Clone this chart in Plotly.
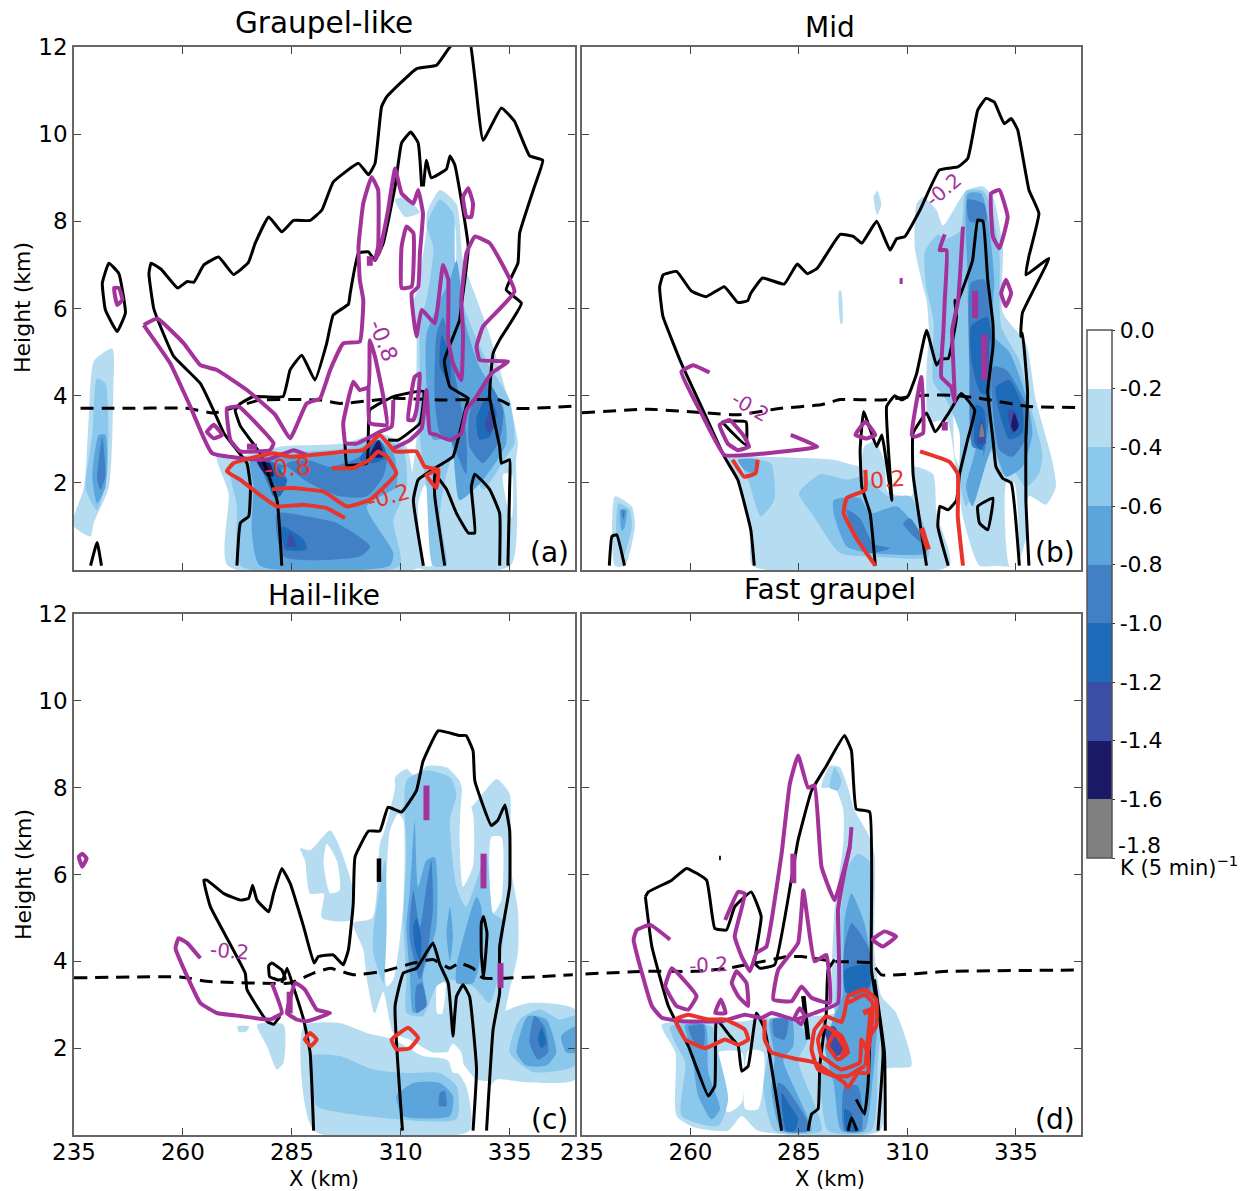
import plotly.graph_objects as go

# ---------- level bands and tick labels ----------
level_edges = [0.0, -0.2, -0.4, -0.6, -0.8, -1.0, -1.2, -1.4, -1.6, -1.8]
level_labels = ["0.0", "-0.2", "-0.4", "-0.6", "-0.8", "-1.0", "-1.2", "-1.4", "-1.6", ""]
level_colors = ["#ffffff", "#b6dcf2", "#8cc8ec", "#5ba5dc", "#4180c4", "#1e6cb9", "#3b4ea6", "#1a1a66", "#808080"]
x_ticks = [235, 260, 285, 310, 335]
y_ticks = [2, 4, 6, 8, 10, 12]

# ---------- panel (a): filled cooling regions, km ----------
a_l1 = [
 [(235,1.23),(237.3,1.9),(238.4,3.5),(239.6,4.8),(243.8,5.08),(244,4.05),(243,1.9),(239.6,1.1),(238.8,.77),(235,1.0)],
 [(270.3,.1),(270.5,1.76),(267.8,2.6),(273.2,2.6),(282.3,2.83),(296.8,2.9),(305.2,3.14),(311.3,2.83),(312.9,1.9),(312.1,1),(315.2,.1)],
 [(316,8.2),(319,8.72),(322.8,8.4),(324.3,7.1),(327.5,6.2),(330.4,5.4),(335.8,3.5),(336.9,2.9),(336.5,2.53),(335.2,.1),(313,.1),(312,1.6),(313.6,3),(313.6,4.36),(313.6,5.58),(312.9,6.19),(313.6,6.35),(315.9,7.8)],
 [(308.7,8.5),(311,8.55),(314.4,8.2),(311,8.1)],
]
a_holes = [
 [(320.1,7.4),(321.3,7.95),(322.4,7.9),(322.4,6.8),(321.3,6.7)],
 [(315.5,.1),(314,1.5),(315.5,1.95),(317,1.6),(317.2,.1)],
 [(333.5,2.2),(335.5,2.2),(335.5,1.2),(334.4,1.5)],
]
a_l2 = [
 [(237.7,1.84),(239.2,3.1),(240.3,4.4),(242.2,4.28),(242.6,2.2),(240.3,1.38)],
 [(273.2,.1),(272.4,1.46),(270.9,2.3),(274.7,2.6),(282.3,2.68),(297.6,2.8),(304.5,3.06),(310.6,2.75),(311.3,1.84),(308.3,1.15),(309.8,.1)],
 [(316,7.9),(319,8.5),(322,8.2),(322.5,7),(325,5.9),(329.7,4.8),(335,3.9),(336.1,2.9),(334.2,2.6),(328.9,1.84),(326.6,2.2),(322,2.6),(319,1.3),(320.5,.1),(317.4,.1),(315.9,1.9),(314.4,3),(314.4,4.36),(314.4,5.7),(315.9,6.19),(317.5,7.4)],
]
a_l3 = [
 [(239.2,2.15),(240.7,3.1),(242.2,3.1),(242.2,1.9),(240.3,1.53)],
 [(277.7,.1),(275.8,.85),(276.2,1.92),(275.5,2.53),(283.1,2.6),(298.4,2.68),(304.5,2.98),(308.3,2.68),(309,1.92),(302.2,1.46),(308.3,.39),(307.5,.1)],
 [(315.9,5.4),(319,6.19),(321.3,6.66),(322.8,7.1),(325,5.6),(328.1,4.66),(333.5,3.75),(334.2,2.9),(328.9,2.07),(323.5,1.6),(321.3,3),(317.4,3),(315.9,4.3)],
]
a_l4 = [
 [(240.3,2.07),(241.5,3.06),(242.2,2.15),(241.1,1.84)],
 [(283.1,.31),(281.6,1.3),(288.4,1.23),(295.3,1.08),(303,.54),(300.6,.31)],
 [(280,1.92),(277.7,2.53),(283.9,2.37),(288.4,2.03),(296,1.69),(302.2,1.69),(306,2.15),(306.8,2.68),(303.7,2.9),(300.6,2.6),(293.8,2.37),(288.4,2.53),(283.9,2.45)],
 [(317.8,3.9),(318.2,5.4),(319.7,5.8),(322.8,4.3),(325,3.14),(325,2.2),(321.3,3),(319,3.14)],
 [(325.8,3.6),(329.7,4.36),(333.5,3.67),(332.7,2.98),(328.9,2.45),(325.8,2.83)],
]
a_l5 = [
 [(283.5,.47),(282.7,1),(287.7,.7),(288.4,.47)],
 [(280.8,1.69),(278.5,2.37),(277.7,2.53),(280.8,2.45),(283.9,2.07),(282.3,1.69)],
 [(300.6,2.53),(302.9,2.9),(305.2,2.98),(306.8,2.6),(303.7,2.45)],
 [(319,4.66),(319.4,5.4),(321.3,4.9),(321.3,4.28)],
 [(327.4,3.5),(330,4),(332,3.6),(330.4,3.06),(328,3)],
]
a_l6 = [
 [(283.9,.54),(284.6,.85),(286.1,.54)],
 [(329.3,3.3),(330.4,3.67),(331.6,3.37),(330.4,3.14)],
]
a_l7 = [
 [(279.3,2.15),(277,2.49),(280,2.45),(280.8,2.15)],
 [(302.9,2.6),(304.9,2.98),(306,2.6)],
]

# ---------- panel (a): contour lines, km ----------
a_freezing = [(236.5,3.71),(244.2,3.71),(261,3.71),(267,3.6),(277.7,3.9),(291.5,3.9),(296,3.82),(308.3,3.94),(319,3.9),(332.7,3.9),(336.5,3.71),(350,3.76)]
a_black = [
 [(272.4,.1),(273.2,1.08),(275.1,1.23),(275.5,1.92),(274.7,2.45),(272.4,2.75),(269.4,3.14),(267,3.67),(264,4.28),(257.9,4.9),(255.2,5.5),(253.3,6),(252.2,6.8),(252.7,7.04),(255,6.9),(258.8,6.47),(261,6.62),(262.5,6.6),(264.8,7),(268.2,7.18),(271.6,6.78),(275,7.05),(276.6,7.5),(279.7,8.1),(282.7,7.76),(285.4,8.02),(289.2,8.02),(291.9,8.26),(294.5,8.9),(300.3,9.33),(302.6,9.07),(304.1,9.33),(305.6,10.63),(306.8,10.86),(313.6,11.5),(318.2,11.58),(321.3,12),(325.5,12.3),(327,11.3),(328.9,9.86),(333.1,10.6),(336.1,10.3),(339.6,9.5),(342.6,9.4),(340.7,8.8),(337.3,7.73),(336.9,7.04),(334.2,6.43),(337.7,6.12),(332.7,5.28),(331.2,4.97),(330.4,3.98),(332.7,2.83),(333.1,2.45),(335,2.53),(335,1.9),(334.6,.1)],
 [(282.7,.1),(281.6,1.6),(277.7,2.68),(273.2,3.3),(272,3.67),(273.2,3.82),(276.2,3.98),(283,3.98),(284.6,4.59),(287.3,4.93),(290.3,4.36),(293,5.2),(294.5,5.85),(298,6.1),(298.4,6.35),(300.3,7.27),(302.6,7.3),(304.1,7.1),(306,7.5),(308.7,8.8),(310.2,9.8),(312.3,10.05),(314,9.8),(314.8,8.8)],
 [(315.2,.1),(312.9,1.6),(314,2.07),(319.7,2.45),(322,2.6),(325,3.75),(325.5,3.94),(321.3,4.2),(320,4.8),(323.5,5.73),(323.9,6.05),(325.5,7.4),(322.4,9.3),(321.3,9.5),(320.5,9.2),(317,9),(315.9,9.4),(315.2,8.8)],
 [(320.1,.1),(317.8,1.7),(317.8,2.2),(320.5,1.85),(322.8,1.3),(325.5,.85),(327,.85),(326.2,1.9),(327,2.2),(330.4,1.85),(332.7,1.3),(332.7,.1)],
 [(297.2,2.9),(297.6,2.4),(298.4,2.4),(302.2,2.45),(302.9,3.67),(308.3,3.98),(315.2,4.1),(314.4,3.37),(309.4,2.98),(307.1,2.98)],
 [(238.8,.1),(240.3,.63),(241.3,.1)],
 [(241.5,6.58),(243,7.04),(245.3,6.8),(246.8,5.9),(244.9,5.47),(242.2,5.97),(241.5,6.58)],
]
a_purple = [
 [(251,5.62),(254.1,5.77),(260.2,5.2),(264,4.7),(267.8,4.59),(274.7,4.13),(281.2,3.56),(284.6,3.02),(288.4,3.82),(291.5,3.94),(293.8,4.59),(296.8,5.2),(300.6,5.24),(301.4,6.19),(300.6,6.66),(300.3,7.42),(301.4,8.41),(303.3,9.02),(304.8,8.72),(304.8,7.42),(304.1,7.11),(305.2,7.34),(307.1,8.26),(308.7,9.21),(310.2,8.64),(312.9,8.41),(314,8.72),(315.1,8.18),(314.4,7.27),(314,6.5),(312.5,6.35),(312.9,5.82),(313.6,5.36),(314.8,5.97),(317.8,5.66),(319.7,7),(320.9,6.66),(320.9,5.28),(322,4.74),(323.9,4.36),(324.3,5.43),(323.9,6.19),(325.1,7.27),(327,7.65),(330.4,7.5),(336.1,6.39),(328.9,5.59),(327.4,5.13),(328.1,4.82),(334.6,4.78),(330.8,4.51),(327.4,3.98),(325.1,3.67),(323.9,3.14),(321.3,2.98),(318.2,3.1),(316.7,3.14),(315.9,4.13),(314.8,3.25),(312.1,2.98),(308.3,2.79)],
 [(297.2,2.9),(296.8,3.37),(299.1,4.32),(300.6,4.13),(302.6,4.2),(302.9,5.27),(304.1,4.89),(306,3.98),(306.8,3.33),(302.9,3.37),(302.6,4.2)],
 [(297.2,2.9),(299.9,2.9),(305.2,3.17),(307.9,3.29),(308.3,3.9)],
 [(251,5.62),(257.1,4.74),(261.7,3.75),(266.7,2.68),(279.3,2.53),(285.4,2.75),(288.4,2.64)],
 [(270.1,3.71),(272.8,3.75),(280.8,2.91),(280,2.75),(273.2,2.72),(270.9,2.98),(270.1,3.71)],
 [(265.5,3.17),(267.1,3.33),(269,3.1),(267.1,3.02),(265.5,3.17)],
 [(311.7,3.44),(313.2,4.43),(314.4,4.51),(313.6,3.67),(312.9,3.44),(311.7,3.44)],
 [(324.3,8.56),(325.5,8.76),(326.6,8.41),(326.2,8.1),(325.1,8.1),(324.3,8.56)],
 [(310.2,7.42),(311.3,7.88),(312.9,7.73),(312.5,6.5),(310.2,6.47),(310.2,7.42)],
 [(244.2,6.47),(245.3,6.47),(246.1,6.2),(244.9,6.08),(244.2,6.47)],
]
a_red = [
 [(297.2,1.19),(293,1.42),(287.7,1.5),(281.6,1.46),(277.7,1.72),(273.2,2.07),(270.1,2.26),(271.6,2.45),(280.8,2.68),(284.6,2.6),(297.6,2.72),(301.4,2.75),(305.2,3.1),(308.7,2.72),(313.6,2.72),(315.5,2.37),(318.6,2.3),(318.2,1.88),(315.9,2.18),(318.6,2.3)],
 [(280.4,1.85),(284.6,1.88),(292.3,1.8),(297.6,1.46),(302.9,1.61),(309,2.22),(306.8,2.6),(304.8,2.72),(302.9,2.53),(299.1,2.34),(294.2,2.34)],
]
a_bars = [
 [(274.7,2.83),(277,2.83)],
 [(302.9,7.2),(302.9,6.98)],
]

# ---------- panel (b) ----------
b_l1 = [
 [(242.6,1.69),(246.5,1.45),(247.2,1),(244.9,.1),(242.6,.1)],
 [(267.8,2.6),(275.5,2.6),(293,2.53),(299,2.4),(300,2.83),(302.5,2.95),(304.7,2.5),(305.5,1.8),(311,1.7),(311.3,2.37),(315.9,2.2),(316.7,1.3),(319.7,.1),(274.3,.1),(273.9,.92),(270.9,2.07)],
 [(312.1,8.4),(313.6,8.56),(316.7,8.26),(318.2,7.9),(323.5,8.7),(327.4,8.8),(329.7,8.56),(332,7.4),(332,5.9),(337.3,5.2),(339.6,3.9),(343.4,2.5),(344.2,1.9),(341.9,1.5),(338,1.7),(337.5,.8),(335,.1),(330.4,.1),(326.6,.1),(322.8,1.2),(321.3,2.2),(319,3.44),(315,3.4),(314.4,4.66),(315,5.4),(314.4,6.19),(313.6,6.5),(311.7,7.4)],
 [(302.2,8.55),(303,8.7),(304,8.4),(303,8.15)],
 [(294.2,6.4),(294.7,6.4),(295,5.65),(294.6,5.65)],
]
b_holes = [
 [(321,3.9),(323.5,3.7),(324,2.9),(322.5,2.3),(321,2.6)],
 [(332.8,2),(334.6,2),(335.2,.1),(333.5,.1)],
]
b_l2 = [
 [(243.4,1.53),(246,1.38),(246.5,1),(244.5,.31),(243,.7)],
 [(271.6,2.53),(278.5,2.45),(279.3,1.6),(276.2,1.23),(273.5,2)],
 [(285,1.76),(290,2.2),(296,2.07),(299.9,2.14),(305.6,1.69),(310.6,1.69),(314.4,.85),(314.8,.3),(303.7,.3),(294.5,.39),(288.4,1.23)],
 [(323.5,8.7),(327.4,8.7),(329.3,8.3),(331.2,7.27),(331.6,5.6),(335.8,4.8),(338,3.9),(341.1,2.68),(340.3,2.2),(337.3,1.9),(334.2,2.3),(332,2.2),(329.7,2.75),(325.8,1.9),(323.5,1.46),(322,2.07),(322,3.14),(319,3.9),(316,4.3),(316,5.7),(315,6.2),(314.4,6.43),(314,7.3),(317,7.7),(319,7.6),(322.3,7.8)],
]
b_l3 = [
 [(243.8,1.38),(245.3,1.38),(244.9,1),(244.2,.9)],
 [(270.9,2.53),(275.5,2.53),(274.7,2.22),(272.4,2.3)],
 [(293,1.6),(299,1.65),(301.4,1.3),(307.5,1.46),(313.6,.77),(314.4,.39),(301.4,.39),(296,.54),(293,1.3)],
 [(323.9,8.64),(327,8.64),(328.5,8.1),(330,6.66),(329.7,5.4),(333.5,5),(337.3,4),(338.8,3.14),(336.5,2.37),(332.7,2.14),(329.7,2.83),(325,1.46),(323.5,1.9),(325.8,2.83),(325,3.9),(324.3,5.4),(323.9,6.2),(323.9,6.66)],
]
b_l4 = [
 [(244.1,1.38),(244.9,1.35),(244.5,1.15)],
 [(296,1.38),(297.6,.85),(300.6,.39),(306,.5),(302.2,.6),(299,1.2)],
 [(309,1.08),(310.6,1.19),(312.9,.85),(313.6,.6),(310.6,.85)],
 [(323.9,8.5),(327.7,8.4),(328.1,8),(324.3,8)],
 [(324.7,6.6),(327.7,6.66),(329.5,5.3),(329.3,4.1),(328.5,3.2),(327.5,2.6),(327.4,2.75),(325,2.83),(324.3,4.66)],
 [(329.7,4.66),(332.7,4.6),(337.3,3.8),(337.7,3.1),(334.2,2.6),(331.2,2.75),(329.7,3.67)],
]
b_l5 = [
 [(324.7,5.6),(328.5,5.8),(329.3,5.36),(328.9,5.2),(328.5,4.05),(327,4.05),(325,4.66)],
 [(325.8,3.8),(327.7,3.67),(328,3),(327,2.75),(325.5,2.9)],
 [(330.4,4.2),(333.5,4.36),(336.5,3.75),(336.5,3.14),(333.5,3),(331.2,3.6)],
]
b_l6 = [
 [(333.1,3.67),(334.6,3.67),(335.8,3.3),(334.2,3.14)],
 [(326.2,2.9),(327.1,3.5),(328,2.9)],
]
b_l7 = [[(333.9,3.3),(334.6,3.6),(335.6,3.3),(334.6,3.17)]]
b_l8 = [[(326.6,3.06),(327.1,3.37),(327.7,3.06)]]

b_freezing = [(235,3.61),(250.3,3.69),(264,3.6),(270.9,3.56),(280.8,3.71),(290,3.79),(294.5,3.91),(303.7,3.9),(314.4,4.01),(320.5,4.01),(326.6,3.94),(338,3.75),(349.5,3.73)]
b_black = [
 [(274.7,.1),(273.9,.92),(270.9,2.07),(267.8,2.6),(263.2,3.6),(257.9,4.74),(253.7,5.8),(253.3,6.05),(252.9,6.5),(253.7,6.77),(256.8,6.85),(260.2,6.4),(263.6,6.27),(267.8,6.5),(270.9,6.14),(273.2,6.18),(273.9,6.35),(276.6,6.7),(281.6,6.56),(284.6,7.02),(286.9,6.8),(289.2,6.92),(294.5,7.7),(297.6,7.65),(299.5,7.5),(302.9,8),(306,7.34),(307.5,7.6),(309.4,7.65),(312.9,8.26),(317.4,9.18),(321.6,9.25),(323.9,9.44),(326.2,10.55),(328.1,10.82),(330,10.74),(332.3,10.24),(333.9,10.36),(335.4,10.1),(338,8.72),(340.3,8.18),(338,7.2),(337.3,6.77),(342.6,7.15),(336.5,5.9),(336.1,5.36),(336.5,5.43),(337.7,4.05),(337.3,3),(337.3,1.6),(338,.1)],
 [(302.6,.1),(301.4,1.3),(299.5,1.9),(299.1,2.75),(299.9,3.63),(302.9,2.83),(304.1,3.1),(306.4,1.6),(305.2,3.75),(307.1,4),(308.7,3.9),(310.2,4),(312.1,4.5),(314.4,5.5),(316.7,4.7),(317.8,4.85),(319.4,4.85),(321.3,5.8),(320.9,6.19),(321.3,6.1),(325,7.1),(326.2,8.03),(327.4,8),(328.5,6.66),(329.7,5.66),(329.7,5.1),(328.5,4.1),(329.7,3),(330.4,2.37),(332,2.1),(333.9,2),(335.8,.1)],
 [(314.4,.1),(311.3,2.2),(311.3,3.14),(314.4,3.6),(316.4,3.17),(319.5,3.6),(322.4,4.05),(325.5,3.67),(323.9,3),(322,2.2),(321.3,1.6),(319.4,1.38),(317.5,1.46),(317,1),(319.4,.1)],
 [(326.2,1.46),(329.7,1.65),(328.5,.92),(326.6,1.08),(326.2,1.46)],
 [(241.3,.1),(241.9,.77),(243,.81),(244.8,.1)],
 [(267.4,3.4),(272.8,3.4),(272.8,2.87),(267.4,3.4)],
]
b_purple = [
 [(264.4,4.53),(260.6,4.7),(257.9,4.55),(263,3.5),(267.8,2.64),(277.7,2.68),(289.2,2.83),(283.1,3.1)],
 [(266.7,3.33),(269,3.44),(272.4,3.06),(273.5,2.83),(270.9,2.75),(268.6,2.9),(266.7,3.33)],
 [(298,3.1),(300.3,3.4),(302.6,3.1),(300.6,3.02),(298,3.1)],
 [(311,3.1),(313.2,4.43),(313.6,3.14),(311.7,3.06),(311,3.1)],
 [(322.8,7.88),(322.2,6.9),(321.7,6.19),(320.3,5.5),(320.5,4.9),(320.9,3.86),(320.1,4.2),(317.8,4.43),(318.3,5.5),(318.6,6.19),(319,7.34),(317.4,7.34),(318.6,7.7)],
 [(329.3,8.64),(331.2,8.72),(333.1,8.1),(331.2,7.38),(329.7,7.65),(329.3,8.64)],
 [(331.6,6.35),(332.7,6.66),(333.9,6.35),(332.7,6.05),(331.6,6.35)],
]
b_bars = [
 [(325.6,6.4),(325.6,5.78)],
 [(327.7,5.4),(327.7,4.36)],
 [(318.6,3.4),(318.6,3.2)],
 [(308.2,6.63),(308.9,6.63)],
]
b_red = [
 [(312.9,2.72),(319.7,2.48),(321.6,2.2),(321.6,1.23),(322.8,.1)],
 [(300.3,2.3),(300.3,1.84),(296,1.65),(295.3,1.3),(298.4,.7),(302.6,.1)],
 [(269.7,2.53),(272.4,2.14),(275,2.22),(275.5,2.53)],
]
b_red_bars = [[(313.2,.96),(314.8,.47)]]

# ---------- panel (c) ----------
c_l1 = [
 [(287.7,2.51),(296,2.58),(302.2,2.35),(308.3,2.2),(315.1,1.82),(320.5,1.74),(325,1.13),(325.8,.1),(290.1,.1)],
 [(277,2.54),(283.1,2.54),(283.1,1.67),(281.6,1.51),(279.3,2.05)],
 [(272.5,2.5),(275.2,2.5),(274.5,2.38),(272.8,2.38)],
 [(332.7,2.35),(333.5,2.81),(339.6,3.04),(350,2.89),(350,1.28),(339.6,1.21),(332,1.28),(330.4,1.13)],
 [(306.4,7.05),(308.7,8),(308.7,8.24),(311.3,8.43),(313.6,8.24),(315.9,8.5),(320.5,8.47),(323.5,8.16),(325.5,7.5),(328.8,7.86),(332,8.2),(335,7.86),(335,6.33),(336.9,5.18),(336.9,4.19),(334.2,2.97),(332,1.28),(327.4,1.28),(322,1.9),(317.4,1.9),(312,2.2),(308.3,2.35),(306,3.3),(304,2.8),(302.2,3.6),(301.4,4.27),(299.1,4.88),(303.5,5),(305.2,6.7)],
 [(286.9,6.6),(289.2,6.56),(293.8,7.02),(296,6.63),(299.1,5.64),(298.7,4.95),(291.9,5),(292.3,5.56),(289.2,5.56),(288,6.33)],
]
c_holes = [
 [(307.5,7),(309.4,7.4),(310.6,7.25),(310.6,5.34),(308.3,3.58),(306.8,3.42),(306,4.95),(306.8,6.1)],
 [(293,6.71),(295.3,6.33),(296,5.64),(293.8,5.57),(292.3,6.26)],
 [(330.8,6.86),(333.1,6.86),(333.1,5.41),(331.2,5.1),(330.4,5.87)],
 [(324.3,8),(326.6,7.4),(326.6,6.2),(324.3,5.72),(323.5,6.86)],
 [(320.9,1.9),(322,2.1),(323.9,1.9),(324.3,1.44),(322,1.44)],
 [(318.5,3.6),(320.2,3.5),(319.5,2.8),(318.4,2.8)],
]
c_l2 = [
 [(289.2,1.82),(296,1.82),(303.7,1.51),(311.3,1.43),(319,1.43),(322.8,1.13),(322.8,.37),(296,.52),(290.7,.67)],
 [(335,1.9),(337.3,2.66),(341.9,2.89),(346.5,2.66),(350,2.74),(350,1.6),(340.3,1.45)],
 [(311.3,8.16),(315.9,8.4),(321.3,8.24),(322.8,7.86),(321.3,7.25),(322.8,5.72),(325,5.26),(329.7,6.48),(331.2,5.1),(333.5,4.95),(332.7,3.8),(330.4,3.04),(326.6,3.42),(321.3,3.58),(318.2,3.42),(315.1,2.74),(311.3,2.81),(311.3,3.58),(310.6,4.95),(311.3,6.48)],
 [(303.7,4.65),(306.4,6.33),(306.8,4.95),(306,3.5),(303.7,4.19)],
]
c_l3 = [
 [(309,.9),(312.9,1.2),(319,1.2),(322,.9),(321.3,.44),(310.6,.44)],
 [(336.6,1.9),(339.2,2.74),(343.4,2.66),(345.7,1.9),(343.4,1.6),(338.8,1.6)],
 [(346.8,2.28),(350,2.5),(350,1.9),(348,1.9)],
 [(311.3,4.8),(312.1,5.64),(313.2,7.25),(314,5.72),(315.9,6.33),(317.8,6.4),(318.2,4.8),(315.1,3.65),(315.9,2.97),(312.9,2.81),(312.1,3.73)],
 [(320.5,4.65),(321.3,5.26),(322,4.57),(321.3,4)],
 [(322.8,3.88),(327.4,5.49),(328.5,5.26),(328.1,4),(326.6,3.5),(322.8,3.5)],
]
c_l4 = [
 [(319,.98),(320.1,1.02),(320.5,.67),(318.8,.67)],
 [(339.6,2.12),(340.7,2.74),(343,2.5),(343.8,1.9),(341.5,1.74)],
 [(312.1,5),(312.9,5.64),(314.4,4.8),(315.9,5.72),(317,6.33),(317.4,5.26),(316.3,4.34),(314.4,3.58),(312.1,4.5)],
 [(313.6,3.43),(314.8,3.5),(315.9,2.97),(313.6,2.81)],
]
c_l5 = [
 [(341.5,2.2),(342.3,2.47),(343.4,2.12),(342.3,2)],
 [(312.9,4.8),(313.6,5),(314.8,4.5),(314.4,4),(313.2,4.34)],
]
c_freezing = [(235,3.62),(259.4,3.64),(265.5,3.54),(284.6,3.5),(290,3.73),(293.8,3.84),(299.1,3.69),(306,3.77),(312.9,3.96),(317.4,4.04),(321.3,3.84),(323.5,3.96),(326.6,3.84),(328.8,3.62),(349.5,3.69)]
c_black = [
 [(290,.1),(289.2,1.9),(287.7,2.66),(285.4,3.4),(283.9,3.84),(282.7,3.5)],
 [(282.3,2.74),(280.8,2.55),(279.3,2.62),(274.7,3.35),(274.3,3.73),(266.3,5.26),(264.8,5.87),(265.5,5.87),(269.4,5.56),(273.2,5.41),(275.1,5.45),(276,5.75),(277,5.41),(279.7,5.14),(280.8,5.56),(282.7,6.14),(284.6,5.8),(287.7,4.8),(290.1,3.96),(291.1,4.11),(294.5,4.15),(296.8,3.92),(298,4.27),(299.1,5.33),(299.5,6.4),(302.6,7),(305.2,7),(307.1,7.55),(310.2,7.44),(313.6,7.93),(315.1,8.6),(318.6,9.31),(323.5,9.2),(325,9.2),(326.6,8.85),(327,8.16),(330.8,7.13),(332.3,7.25),(333.9,7.6),(335,7.02),(335,5.72),(332.7,4.34),(332.7,3.27),(331.2,2.43),(329.7,.1)],
 [(279.7,3.9),(280.4,3.96),(282.7,3.8),(283.5,3.6),(281.9,3.57),(279.9,3.65),(279.7,3.9)],
 [(310.4,.1),(308.7,2.97),(310.6,3.73),(313.6,3.84),(317.4,4.42),(319,3.92),(320.9,3.5),(322,2.28),(322.8,3.19),(324.3,3.46),(325.8,3.19),(327.4,1.51),(326.6,.1)],
 [(328.5,4.88),(329,5.03),(329.8,4.65),(329,3.62),(328.5,4.19),(328.5,4.88)],
]
c_black_bars = [[(305,6.37),(305,5.83)]]
c_purple = [
 [(264,4.07),(261,4.42),(259,4.53),(258.3,4.3),(261,3.65),(264,3.04),(267.8,2.81),(273.2,2.74),(280,2.66),(282.7,2.81),(280.4,3.5)],
 [(283.9,2.81),(285.8,3.5),(288,3.35),(290.7,2.89),(293.8,2.81),(288.4,2.62),(286.1,2.66),(283.9,2.81)],
 [(236.1,6.41),(236.9,6.48),(237.9,6.37),(236.9,6.18),(236.1,6.41)],
]
c_bars = [
 [(315.9,8.05),(315.9,7.25)],
 [(329,6.48),(329,5.68)],
 [(332.9,3.96),(332.9,3.39)],
 [(284.5,3.3),(284.5,2.8)],
]
c_red = [
 [(288,2.2),(289.2,2.35),(290.7,2.2),(289.4,2.05),(288,2.2)],
 [(307.9,2.2),(311.7,2.47),(314,2.24),(312.1,2),(309,1.97),(307.9,2.2)],
]

# ---------- panel (d) ----------
d_l1 = [
 [(253.4,2.54),(272.5,2.62),(277,2.7),(293.2,2.81),(292.5,3.04),(293.2,5.18),(295.2,6.7),(295.2,7.5),(293.2,8),(290.2,8),(292.1,8.5),(294.4,8.47),(296.3,8),(297.8,7.48),(300.9,6.94),(302.4,6.48),(302.4,4.19),(304,3.2),(307.4,2.81),(310.9,1.59),(304.7,1.51),(303.7,.1),(275.6,.1),(271.8,.44),(268.7,.1),(261,.17),(256.8,.44),(256.5,1.9)],
]
d_holes = [
 [(273.3,1.95),(276.8,1.9),(275.6,.6),(272.6,.6)],
 [(266.4,1.9),(271.8,1.9),(271.8,.74),(268.7,.52),(266.4,.9)],
]
d_l2 = [
 [(255.3,2.5),(264.9,2.5),(266.4,1.9),(268.7,.82),(266.4,.21),(258,.44),(258.8,1.67),(256.5,2.12)],
 [(277.1,2.58),(284,2.66),(287,2.2),(284.8,1.74),(285.6,1.44),(290.2,.1),(279.4,.1),(276.8,1.05),(277.9,1.9)],
 [(294.4,4.95),(296.3,6.18),(298.6,6.48),(301.7,6.25),(301.7,3.96),(304,2.66),(303.2,1.74),(301.7,.1),(291.7,.1),(290.2,1.59),(291.7,1.9),(293.2,2.8)],
 [(292.1,8),(293.2,8.47),(294.8,8.16),(294,7.94)],
]
d_l3 = [
 [(258.8,2.54),(263.4,2.54),(264.1,1.44),(266.8,.6),(264.9,.36),(261.8,.9),(260.3,1.9)],
 [(278.3,2.66),(283.3,2.66),(283.7,2.05),(281.4,1.74),(284.8,.9),(287.9,.1),(281,.1),(278.7,.98),(279.4,1.82)],
 [(295.5,4.95),(297.1,5.56),(300.1,4.88),(301.7,4),(302.6,3.4),(303,2.5),(302,1.3),(300.1,.1),(294.8,.1),(293,1.2),(291,2),(293,2.7),(295,3.2)],
]
d_l4 = [
 [(259.5,2.5),(263,2.54),(263,2.05),(261,2.12)],
 [(279,2.66),(282.5,2.66),(281.7,2.2),(279.4,2.27)],
 [(280.2,1.2),(281.7,1.13),(287.1,.29),(287.1,.1),(281.7,.1),(279.8,.74)],
 [(295.5,4.34),(297.1,4.88),(300.9,4.34),(301.7,3.73),(300.9,3.2),(296.3,3.2),(295.2,3.73)],
 [(295.5,1.13),(298.6,1.13),(299.4,.1),(295.5,.1)],
]
d_l5 = [
 [(281,.98),(282.5,.75),(284.8,.37),(284,.1),(282.1,.1)],
 [(295.5,3.8),(300.9,3.92),(301.3,3.42),(295.9,3.27)],
 [(295.5,.6),(297,.52),(298.2,.1),(295.9,.1)],
]
d_l6 = [[(290.9,2.43),(293.2,2.5),(295.5,1.9),(293.2,1.82)]]

d_freezing = [(235.8,3.71),(250.3,3.77),(261,3.77),(268.7,3.84),(282.5,4.11),(285.6,4.11),(293.2,4),(301.7,3.96),(304,3.69),(319.3,3.77),(350,3.8)]
d_black = [
 [(249.6,5.49),(250.3,5.6),(255.7,5.87),(259.1,6.14),(263.7,5.87),(265.6,4.76),(268.3,4.72),(270.2,5.26),(274,5.6),(276.3,5.03),(274.8,3.96),(276,3.84),(279.4,3.92),(284.8,6.79),(287.9,7.93),(291.3,8.5),(295.5,9.2),(297.1,8.85),(298.2,7.51),(301.3,7.44),(301.7,3.8),(303.6,2.66),(304.4,1.9),(303.2,.1)],
 [(302.4,3.58),(304.7,1.9),(304.9,.1)],
 [(249.6,5.49),(251.1,4.34),(254.9,2.97),(259.5,2.05),(264.1,.9),(265.6,1.13),(266,2.66),(269.1,2.28),(271,2.05),(271.8,1.47),(273.3,1.59),(275.2,2.81),(277.1,2.43),(281,.1)],
 [(287.1,.1),(287.9,.48),(289.4,.6),(289.8,1.59),(291.3,2.81),(291.7,3.8),(293.2,4.04)],
 [(296.3,.1),(297.1,.4),(298.4,.1)],
 [(298.2,.82),(300.1,.48),(300.9,1.13),(301.3,2.05)],
]
d_black_bars = [
 [(286,3.2),(287.1,2.2)],
 [(266.6,6.38),(267,6.38)],
]
d_purple = [
 [(255.3,4.5),(250.7,4.84),(247.6,4.72),(246.9,4.5),(251.1,2.97),(253.4,2.7),(258,2.62),(267.2,2.62),(272.5,2.77),(276.4,2.7),(278.7,2.81),(284,2.66),(288.6,2.81),(294,3.04),(294,5.18),(295.5,6.06),(296.7,6.63),(297.1,7.09)],
 [(296.7,6.63),(293.2,5.41),(290.2,6.18),(288.6,8.05),(287.1,8),(284.8,8.74),(282.9,8.09),(281,6.48),(278.7,4.95),(277.5,4.34),(275.2,4.19),(273.7,3.77),(271.8,4.11),(270.2,4.57),(272.5,5.56),(271,5.6),(268,4.95)],
 [(279.1,3.12),(280.2,3.8),(284.8,4.42),(286,5.64),(287.1,4.88),(288.6,4),(291.3,4.15),(292.1,3.04),(287.9,3.16),(285.6,3.42),(283.3,3.08),(279.1,3.12)],
 [(254.2,3.42),(255.7,3.84),(261.4,3.2),(259.5,2.89),(256.8,2.97),(254.2,3.42)],
 [(269.5,3.5),(270.6,3.77),(272.9,3.5),(273.3,2.97),(271,3.2),(269.5,3.5)],
 [(265.7,2.81),(267,3.12),(268.1,2.81),(265.7,2.81)],
 [(302,4.5),(304.7,4.69),(307.4,4.57),(304.3,4.34),(302,4.5)],
 [(284,2.7),(285.2,2.92),(286.3,2.75),(285.5,2.55),(284,2.7)],
]
d_bars = [[(283.7,6.48),(283.7,5.8)]]
d_red = [
 [(256.5,2.66),(259.5,2.77),(264.1,2.66),(268,2.66),(272.5,2.43),(273.3,2.2),(271,2.08),(268,2.2),(263.4,2),(258.8,2.2),(256.5,2.66)],
 [(277.1,2.66),(277.1,2.2),(278.7,1.9),(284,1.76),(288.6,1.67),(295.5,1.2),(296.3,1.09),(298.6,1.43),(300.9,1.43),(300.9,2.2),(302.8,2.51),(302.8,3.12),(300.1,3.35),(296.3,3.19),(295.5,2.81),(294.8,2.6),(291.3,2.73),(288.6,2.43),(287.9,1.97),(289.4,1.51),(293.2,1.36),(296.3,1.36),(300.1,1.59)],
 [(296.3,3.04),(300.1,3.23),(302,3.04),(301.7,2.5),(300.9,1.9),(299.4,2.2),(299,1.67),(294.8,1.51),(290.2,1.82),(289.4,2.2),(290.9,2.5),(294.8,2.28),(296.3,1.9),(294,1.74),(291.7,2.05),(293.2,2.35),(295.5,2),(294.8,1.82)],
]
d_red_bars = [[(299.8,2.81),(301.7,2.89),(300.5,1.59)]]

# ---------- axes and pixel frame of the figure ----------
W, H = 1258, 1191
frames = {"a": (74, 575, 47, 570), "b": (582, 1081, 47, 570), "c": (74, 575, 614, 1135), "d": (582, 1081, 614, 1135)}
axis_ids = {"a": ("x", "y"), "b": ("x2", "y2"), "c": ("x3", "y3"), "d": ("x4", "y4")}
BLACK, PURPLE, RED = "#000000", "#a3339b", "#e8342b"

fig = go.Figure()

def add_fill(panel, polys, color):
    xa, ya = axis_ids[panel]
    for poly in polys:
        fig.add_trace(go.Scatter(x=[p[0] for p in poly] + [poly[0][0]], y=[p[1] for p in poly] + [poly[0][1]],
                                 xaxis=xa, yaxis=ya, mode="lines", fill="toself", fillcolor=color,
                                 line=dict(width=0, color=color, shape="spline", smoothing=0.6),
                                 hoverinfo="skip", showlegend=False))

def add_lines(panel, lines, color, width, dash="solid", smooth=0.35):
    xa, ya = axis_ids[panel]
    for line in lines:
        fig.add_trace(go.Scatter(x=[p[0] for p in line], y=[p[1] for p in line], xaxis=xa, yaxis=ya, mode="lines",
                                 line=dict(color=color, width=width, dash=dash, shape="spline", smoothing=smooth),
                                 hoverinfo="skip", showlegend=False))

fills = {
 "a": [(a_l1, 1), (a_holes, 0), (a_l2, 2), (a_l3, 3), (a_l4, 4), (a_l5, 5), (a_l6, 6), (a_l7, 7)],
 "b": [(b_l1, 1), (b_holes, 0), (b_l2, 2), (b_l3, 3), (b_l4, 4), (b_l5, 5), (b_l6, 6), (b_l7, 7), (b_l8, 8)],
 "c": [(c_l1, 1), (c_holes, 0), (c_l2, 2), (c_l3, 3), (c_l4, 4), (c_l5, 5)],
 "d": [(d_l1, 1), (d_holes, 0), (d_l2, 2), (d_l3, 3), (d_l4, 4), (d_l5, 5), (d_l6, 6)],
}
for panel, groups in fills.items():
    for polys, idx in groups:
        add_fill(panel, polys, level_colors[idx])

for panel, black, freezing, purple, bars, red, red_bars, black_bars in [
    ("a", a_black, a_freezing, a_purple, a_bars, a_red, [], []),
    ("b", b_black, b_freezing, b_purple, b_bars, b_red, b_red_bars, []),
    ("c", c_black, c_freezing, c_purple, c_bars, c_red, [], c_black_bars),
    ("d", d_black, d_freezing, d_purple, d_bars, d_red, d_red_bars, d_black_bars),
]:
    add_lines(panel, black, BLACK, 3)
    add_lines(panel, black_bars, BLACK, 4.5, smooth=0)
    add_lines(panel, [freezing], BLACK, 3, dash="13px,8px")
    add_lines(panel, purple, PURPLE, 4)
    add_lines(panel, bars, PURPLE, 6, smooth=0)
    add_lines(panel, red, RED, 4)
    add_lines(panel, red_bars, RED, 5.5, smooth=0)

# colour bar, carried by a point outside the visible range
n_bands = len(level_colors)
scale = []
for i, c in enumerate(reversed(level_colors)):
    scale += [[i / n_bands, c], [(i + 1) / n_bands, c]]
fig.add_trace(go.Scatter(
    x=[240, 240], y=[-5, -5], mode="markers", hoverinfo="skip", showlegend=False,
    marker=dict(color=[level_edges[-1], level_edges[0]], cmin=level_edges[-1], cmax=level_edges[0], colorscale=scale, size=1,
                colorbar=dict(thickness=25, thicknessmode="pixels", len=528, lenmode="pixels",
                              x=1087 / W, xanchor="left", y=1 - 330 / H, yanchor="top", xpad=0, ypad=0,
                              outlinewidth=1.5, outlinecolor="#555555",
                              tickmode="array", tickvals=level_edges, ticktext=level_labels,
                              ticks="outside", ticklen=3, tickcolor="#333333",
                              tickfont=dict(family="DejaVu Sans", size=22, color="#000000")))))

layout_axes = {}
for panel, (l, r, t, b) in frames.items():
    xa, ya = axis_ids[panel]
    show_x = panel in "cd"
    show_y = panel in "ac"
    common = dict(showgrid=False, zeroline=False, showline=True, linecolor="#666666", linewidth=1.5, mirror="ticks",
                  ticks="inside", ticklen=7, tickcolor="#444444", tickwidth=1,
                  tickfont=dict(family="DejaVu Sans", size=23, color="#000000"))
    xname = "xaxis" + xa[1:]
    yname = "yaxis" + ya[1:]
    layout_axes[xname] = dict(domain=[l / W, r / W], range=[235, 350], tickmode="array", tickvals=x_ticks,
                              showticklabels=show_x, anchor=ya, ticklabelstandoff=-4, **common)
    layout_axes[yname] = dict(domain=[1 - b / H, 1 - t / H], range=[0, 12], tickmode="array", tickvals=y_ticks,
                              showticklabels=show_y, anchor=xa, **common)

def label(text, px, py, size, color="#000000", angle=0):
    return dict(text=text, x=px / W, y=1 - py / H, xref="paper", yref="paper", showarrow=False,
                font=dict(family="DejaVu Sans", size=size, color=color), textangle=angle,
                xanchor="center", yanchor="middle")

def inset(text, panel, km_x, km_y, size, color, angle=0):
    xa, ya = axis_ids[panel]
    return dict(text=text, x=km_x, y=km_y, xref=xa, yref=ya, showarrow=False,
                font=dict(family="DejaVu Sans", size=size, color=color), textangle=angle)

annotations = [
    label("Graupel-like", 324, 23, 29.5), label("Mid", 830, 28, 28), label("Hail-like", 324, 595, 28),
    label("Fast graupel", 830, 589, 28),
    label("(a)", 549, 552, 28), label("(b)", 1055, 552, 28), label("(c)", 549, 1119, 28), label("(d)", 1055, 1119, 28),
    label("X (km)", 324, 1179, 21), label("X (km)", 830, 1179, 21),
    label("Height (km)", 23, 308, 22, angle=-90), label("Height (km)", 23, 875, 22, angle=-90),
    label("-1.8", 1139, 845, 22),
    dict(text="K (5 min)<sup>\u22121</sup>", x=1118 / W, y=1 - 866 / H, xref="paper", yref="paper", showarrow=False,
         font=dict(family="DejaVu Sans", size=21, color="#000000"), xanchor="left", yanchor="middle"),
    inset("-0.8", "a", 306, 5.27, 22, PURPLE, 68),
    inset("-0.8", "a", 283.9, 2.34, 24, RED, -5),
    inset("-0.2", "a", 307.1, 1.69, 22, RED, -15),
    inset("-0.2", "b", 318.2, 8.72, 20, PURPLE, -40),
    inset("-0.2", "b", 273.9, 3.75, 20, PURPLE, 30),
    inset("0.2", "b", 305.3, 2.07, 22, RED, -5),
    inset("-0.2", "c", 270.6, 4.23, 20, PURPLE, 5),
    inset("-0.2", "d", 264.1, 3.92, 20, PURPLE, -3),
]

fig.update_layout(width=W, height=H, margin=dict(l=0, r=0, t=0, b=0, autoexpand=False), paper_bgcolor="white", plot_bgcolor="white",
                  showlegend=False, annotations=annotations, **layout_axes)
fig.write_html("out.html", config={"displayModeBar": False}, post_script="document.body.style.margin='0';")
